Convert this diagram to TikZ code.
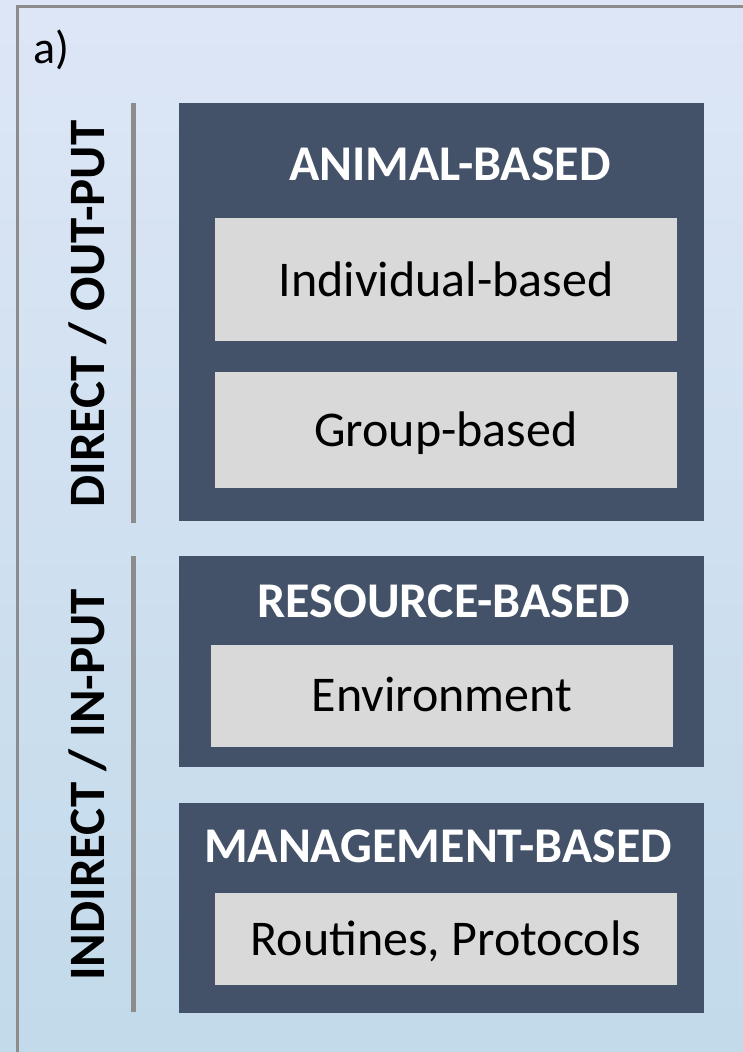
\documentclass[tikz,border=0pt]{standalone}
\usepackage{fontspec}
\setmainfont{Carlito}
\definecolor{bgtop}{HTML}{DDE6F6}
\definecolor{bgbot}{HTML}{C2DAEA}
\definecolor{navy}{HTML}{435269}
\definecolor{inner}{HTML}{D9D9D9}
\definecolor{frame}{HTML}{8C8C8C}
\tikzset{
  outerbox/.style={fill=navy, draw=none},
  innerbox/.style={fill=inner, draw=none},
  titletext/.style={text=white, font=\fontsize{50}{56}\selectfont\bfseries, inner sep=0pt, anchor=base},
  bodytext/.style={text=black, font=\fontsize{50}{56}\selectfont, inner sep=0pt, anchor=base},
  sidetext/.style={text=black, font=\fontsize{51}{56}\selectfont\bfseries, inner sep=0pt, rotate=90, anchor=base},
  sideline/.style={draw=frame, line width=5pt},
}
\begin{document}
\begin{tikzpicture}[x=1pt, y=-1pt]
\useasboundingbox (0,0) rectangle (743,1052);
\shade[top color=bgtop, bottom color=bgbot] (0,0) rectangle (743,1052);
\begin{scope}
\clip (0,0) rectangle (743,1052);
\draw[frame, line width=3pt] (17,1060) -- (17,6) -- (750,6);
\end{scope}
\node[text=black, font=\fontsize{46}{50}\selectfont, inner sep=0pt, anchor=base west] (lbl) at (33,63) {a)};

% side lines
\coordinate (l1a) at (133,103);
\coordinate (l1b) at (133,523);
\coordinate (l2a) at (133,556);
\coordinate (l2b) at (133,1012);
\draw[sideline] (l1a) -- (l1b);
\draw[sideline] (l2a) -- (l2b);
\node[sidetext] (direct) at (104,314) {DIRECT / OUT-PUT};
\node[sidetext] (indirect) at (104,785) {INDIRECT / IN-PUT};

% animal-based
\fill[outerbox] (179,103) rectangle (704,521);
\node[titletext] (animal) at (450,180) {ANIMAL-BASED};
\fill[innerbox] (215,218) rectangle (677,341);
\node[bodytext] (indiv) at (446,296) {Individual-based};
\fill[innerbox] (215,372) rectangle (677,488);
\node[bodytext] (group) at (446,446) {Group-based};

% resource-based
\fill[outerbox] (179,556) rectangle (704,767);
\node[titletext] (resource) at (444,617) {RESOURCE-BASED};
\fill[innerbox] (211,645) rectangle (673,747);
\node[bodytext] (env) at (442,711) {Environment};

% management-based
\fill[outerbox] (179,803) rectangle (704,1013);
\node[titletext] (manage) at (438,862) {MANAGEMENT-BASED};
\fill[innerbox] (215,893) rectangle (677,985);
\node[bodytext] (routines) at (446,955) {Routines, Protocols};
\end{tikzpicture}
\end{document}
